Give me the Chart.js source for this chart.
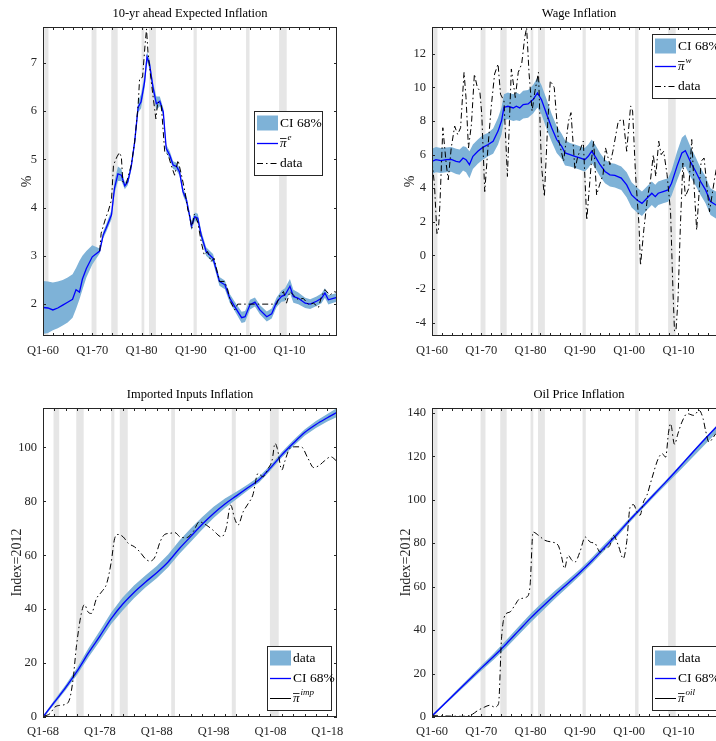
<!DOCTYPE html>
<html>
<head>
<meta charset="utf-8">
<script src="https://cdn.jsdelivr.net/npm/chart.js@4.4.1/dist/chart.umd.min.js"></script>
<style>
  html, body { margin: 0; padding: 0; background: #fff; overflow: hidden; }
  #fig { position: relative; width: 716px; height: 741px; overflow: hidden; }
  canvas { position: absolute; }
</style>
</head>
<body>
<div id="fig">
  <canvas id="c1" width="358" height="370" style="left:0px;top:0px"></canvas>
  <canvas id="c2" width="390" height="370" style="left:358px;top:0px"></canvas>
  <canvas id="c3" width="358" height="371" style="left:0px;top:370px"></canvas>
  <canvas id="c4" width="390" height="371" style="left:358px;top:370px"></canvas>
</div>
<script>
// NBER recessions (start, end) in decimal years
const recessions = [[1960.25, 1961.1], [1969.85, 1970.85], [1973.85, 1975.15], [1980.0, 1980.55],
  [1981.5, 1982.9], [1990.55, 1991.2], [2001.2, 2001.9], [2007.9, 2009.45]];

const ticksYears60 = [1960, 1970, 1980, 1990, 2000, 2010];
const ticksLabels60 = ['Q1-60', 'Q1-70', 'Q1-80', 'Q1-90', 'Q1-00', 'Q1-10'];
const ticksYears68 = [1968, 1978, 1988, 1998, 2008, 2018];
const ticksLabels68 = ['Q1-68', 'Q1-78', 'Q1-88', 'Q1-98', 'Q1-08', 'Q1-18'];

// 10-yr ahead expected inflation
const expYears = [1960, 1961, 1962, 1963, 1964, 1965, 1966, 1966.7, 1967.4, 1968, 1968.8, 1970, 1971.5, 1972.2, 1972.8,
  1973.9, 1974.5, 1975.2, 1975.9, 1976.6, 1977.2, 1977.9, 1978.6, 1979.3, 1979.9, 1980.6, 1981.1, 1981.6, 1982.3, 1983,
  1983.7, 1984.4, 1985, 1985.7, 1986.4, 1987.1, 1987.7, 1988.4, 1989.1, 1989.8, 1990.1, 1990.8, 1991.4, 1992.1, 1993.1,
  1994.5, 1995.8, 1996.9, 1997.9, 1998.9, 2000.3, 2001, 2002, 2003, 2004, 2005.4, 2006.4, 2007.4, 2008.4, 2009.1,
  2010.1, 2010.8, 2011.8, 2013.2, 2014.2, 2015.5, 2016.5, 2017.2, 2017.9, 2018.9, 2019.65];
const expMean = [1.93, 1.92, 1.88, 1.92, 1.98, 2.04, 2.1, 2.3, 2.25, 2.52, 2.74, 2.98, 3.1, 3.43, 3.57,
  3.85, 4.4, 4.7, 4.67, 4.45, 4.53, 4.85, 5.36, 6.08, 6.19, 6.6, 7.12, 6.98, 6.5, 6.15,
  6.2, 5.98, 5.22, 5.09, 4.88, 4.85, 4.74, 4.33, 4.16, 3.8, 3.62, 3.81, 3.78, 3.43, 3.09,
  2.95, 2.47, 2.4, 2.12, 1.95, 1.72, 1.74, 1.99, 2.04, 1.88, 1.74, 1.8, 2.04, 2.16, 2.19,
  2.37, 2.16, 2.12, 2.02, 2.0, 2.06, 2.12, 2.23, 2.09, 2.12, 2.14];
const expUpper = [2.48, 2.47, 2.45, 2.47, 2.5, 2.55, 2.62, 2.75, 2.9, 3.0, 3.1, 3.22, 3.15, 3.5, 3.65,
  3.95, 4.55, 4.85, 4.8, 4.52, 4.6, 4.92, 5.45, 6.2, 6.35, 6.75, 7.22, 7.08, 6.6, 6.3,
  6.3, 6.06, 5.3, 5.17, 4.96, 4.93, 4.82, 4.41, 4.24, 3.88, 3.72, 3.9, 3.87, 3.52, 3.18,
  3.04, 2.56, 2.49, 2.21, 2.05, 1.84, 1.86, 2.09, 2.14, 1.98, 1.85, 1.91, 2.14, 2.28, 2.33,
  2.52, 2.3, 2.24, 2.13, 2.1, 2.16, 2.22, 2.33, 2.19, 2.21, 2.23];
const expLower = [1.38, 1.4, 1.46, 1.5, 1.56, 1.62, 1.72, 1.9, 2.1, 2.3, 2.55, 2.82, 3.05, 3.36, 3.49,
  3.76, 4.28, 4.55, 4.55, 4.38, 4.46, 4.78, 5.27, 5.97, 6.05, 6.47, 7.02, 6.88, 6.4, 6.02,
  6.1, 5.9, 5.14, 5.01, 4.8, 4.77, 4.66, 4.25, 4.08, 3.72, 3.53, 3.72, 3.69, 3.34, 3.0,
  2.86, 2.38, 2.31, 2.03, 1.86, 1.61, 1.63, 1.89, 1.95, 1.79, 1.64, 1.7, 1.94, 2.05, 2.06,
  2.23, 2.03, 2.0, 1.92, 1.9, 1.96, 2.02, 2.13, 1.99, 2.03, 2.05];
const expDataYears = [1971.5, 1971.8, 1972.8, 1973.2, 1973.9, 1974.3, 1975.0, 1975.5, 1975.9, 1976.2, 1976.9, 1977.9,
  1978.6, 1979.3, 1979.6, 1980.2, 1980.7, 1981.0, 1981.3, 1981.9, 1982.3, 1982.9, 1983.3, 1984.0, 1984.7, 1985.4,
  1986.0, 1986.7, 1987.4, 1988.1, 1988.8, 1989.4, 1989.7, 1990.2, 1990.7, 1991.4, 1992.1, 1992.7, 1993.4, 1994.1,
  1994.7, 1995.8, 1996.8, 1997.4, 1998.05, 1998.9, 1999.5, 2007.4, 2008.1, 2008.8, 2009.4, 2010.1, 2010.8, 2011.8,
  2012.8, 2013.9, 2014.9, 2015.9, 2016.5, 2017.2, 2018.2, 2019.2, 2019.65];
const expData = [3.1, 3.47, 3.81, 3.91, 4.16, 4.88, 5.05, 5.14, 5.05, 4.53, 4.5, 4.88,
  5.36, 6.12, 6.67, 6.7, 7.36, 7.7, 7.22, 6.67, 6.33, 5.84, 6.19, 6.12, 5.15, 5.09,
  4.88, 4.67, 4.98, 4.67, 4.33, 3.95, 3.85, 3.57, 3.86, 3.7, 3.29, 3.02, 3.09, 2.88,
  2.95, 2.47, 2.47, 2.33, 2.05, 1.88, 2.0, 2.0, 2.19, 2.26, 2.02, 2.26, 2.19, 2.09,
  2.12, 1.99, 2.02, 1.93, 2.16, 2.3, 2.19, 2.26, 2.23];

// wage inflation
const wageYears = [1960, 1960.8, 1961.8, 1962.9, 1963.9, 1964.9, 1965.6, 1966.3, 1966.9, 1967.6, 1968.3, 1969.3, 1970.3,
  1971.4, 1972.4, 1973.4, 1974.1, 1974.6, 1975.4, 1976.5, 1977.1, 1977.8, 1978.5, 1979.5, 1980.5, 1981.4, 1982.2,
  1983.3, 1984.3, 1985.3, 1986.3, 1987, 1988, 1989, 1990, 1991, 1991.7, 1992.4, 1993.1, 1994.1, 1995.1, 1996.1,
  1997.1, 1998.4, 1999.5, 2000.5, 2001.6, 2002.6, 2003.6, 2004.6, 2005.3, 2005.9, 2006.9, 2007.9, 2008.6, 2009.7,
  2010.7, 2011.4, 2012.4, 2013.5, 2014.5, 2015.5, 2016.5, 2017.6, 2018.6, 2019.65];
const wageMean = [5.6, 5.7, 5.64, 5.7, 5.72, 5.6, 5.56, 5.8, 5.7, 5.4, 5.9, 6.2, 6.43,
  6.6, 6.8, 7.4, 8.0, 8.82, 8.88, 8.78, 8.88, 8.78, 8.98, 9.02, 9.28, 9.67, 9.28,
  8.38, 7.59, 6.9, 6.5, 6.1, 6.0, 5.9, 5.8, 5.7, 5.9, 6.2, 5.9, 5.4, 5.0, 4.8,
  4.76, 4.6, 4.2, 3.6, 3.3, 3.1, 3.4, 3.7, 3.5, 3.7, 3.8, 3.9, 4.3, 5.3,
  6.1, 6.24, 5.6, 5.0, 4.4, 3.9, 3.2, 3.0, 2.9, 2.9];
const wageUpper = [6.35, 6.45, 6.4, 6.42, 6.45, 6.35, 6.3, 6.5, 6.45, 6.2, 6.6, 6.9, 7.15,
  7.3, 7.55, 8.2, 8.8, 9.6, 9.7, 9.6, 9.7, 9.6, 9.8, 9.85, 10.15, 10.6, 10.15,
  9.25, 8.4, 7.7, 7.25, 6.85, 6.7, 6.6, 6.5, 6.4, 6.6, 6.9, 6.6, 6.1, 5.7, 5.5,
  5.45, 5.3, 4.95, 4.35, 4.05, 3.8, 4.1, 4.4, 4.2, 4.4, 4.5, 4.6, 5.05, 6.15,
  7.0, 7.2, 6.5, 5.85, 5.2, 4.7, 4.0, 3.8, 3.7, 3.7];
const wageLower = [4.85, 4.95, 4.9, 4.95, 4.98, 4.85, 4.8, 5.05, 4.95, 4.6, 5.15, 5.45, 5.7,
  5.9, 6.05, 6.6, 7.2, 8.05, 8.1, 8.0, 8.05, 8.0, 8.15, 8.2, 8.45, 8.8, 8.4,
  7.5, 6.75, 6.1, 5.75, 5.35, 5.3, 5.2, 5.1, 5.0, 5.2, 5.5, 5.2, 4.7, 4.3, 4.1,
  4.05, 3.9, 3.45, 2.85, 2.55, 2.35, 2.7, 3.0, 2.8, 3.0, 3.1, 3.2, 3.55, 4.45,
  5.2, 5.3, 4.7, 4.15, 3.6, 3.1, 2.4, 2.2, 2.1, 2.1];
const wageDataYears = [1960.0, 1960.5, 1961.0, 1961.3, 1961.6, 1962.2, 1962.9, 1963.3, 1963.9, 1964.6, 1965.2, 1965.8,
  1966.5, 1966.9, 1967.4, 1968.0, 1968.6, 1969.2, 1969.7, 1970.1, 1970.7, 1971.4, 1972.0, 1972.7, 1973.4, 1973.9,
  1974.6, 1975.3, 1976.1, 1976.9, 1977.5, 1978.2, 1978.8, 1979.2, 1979.7, 1980.3, 1980.9, 1981.6, 1982.2, 1982.8,
  1983.5, 1984.0, 1984.8, 1985.6, 1986.7, 1987.7, 1988.2, 1989.0, 1989.5, 1990.2, 1990.7, 1991.4, 1992.4, 1992.8,
  1993.4, 1994.0, 1994.7, 1995.2, 1996.1, 1996.7, 1997.8, 1998.8, 1999.5, 2000.3, 2000.7, 2001.3, 2002.0, 2002.3,
  2003.0, 2003.7, 2004.3, 2004.9, 2005.4, 2006.0, 2006.5, 2007.0, 2007.7, 2008.4, 2008.9, 2009.2, 2009.5, 2009.9,
  2010.4, 2010.9, 2011.4, 2012.1, 2012.7, 2013.2, 2013.7, 2014.6, 2015.2, 2016.3, 2017.3, 2017.9, 2018.6, 2019.3];
const wageData = [5.6, 4.2, 1.3, 1.5, 3.0, 7.6, 5.4, 4.5, 6.4, 7.7, 7.2, 7.6,
  10.9, 9.4, 6.4, 7.8, 10.8, 10.0, 9.8, 8.4, 3.8, 6.6, 8.8, 10.8, 11.4, 9.6,
  9.2, 4.7, 11.1, 9.4, 10.9, 11.4, 12.95, 13.55, 10.8, 8.6, 9.8, 10.9, 5.4, 3.5,
  8.0, 10.4, 10.0, 7.0, 5.6, 8.0, 8.5, 5.1, 5.8, 6.4, 6.8, 2.1, 5.8, 6.8,
  3.6, 4.2, 4.8, 6.4, 5.4, 6.2, 8.0, 8.1, 6.2, 8.9, 8.6, 4.8, 1.8, -0.6,
  1.6, 3.4, 4.4, 6.0, 4.7, 6.8, 6.0, 6.2, 4.8, 2.6, -2.2, -4.5, -4.5, -2.7,
  1.8, 5.5, 3.5, 4.0, 6.9, 4.0, 1.5, 5.6, 5.8, 2.6, 4.5, 5.5, 5.2, 4.8];

// imported inputs (index, 2012 = 100)
const impYears = [1968, 1970, 1972, 1974, 1976, 1978, 1980, 1982, 1984, 1986, 1988, 1990, 1992, 1994,
  1996, 1998, 2000, 2002, 2004, 2006, 2008, 2010, 2012, 2014, 2016, 2018, 2019.7];
const impMean = [0, 5.5, 11, 17, 23.8, 30, 36.5, 41.8, 46.2, 50, 53.5, 57.5, 62.5, 67,
  71.5, 75.5, 79, 82, 85, 88, 92.4, 97.2, 101.5, 105.5, 108.5, 111, 113];
const impUpper = [0.5, 6.3, 12, 18.3, 25.5, 32, 38.8, 44.3, 48.8, 52.5, 56, 60.3, 65.5, 70,
  74.2, 78, 81, 83.5, 86.2, 89.2, 93.4, 98.3, 102.6, 106.6, 109.8, 112.4, 114.6];
const impLower = [-0.5, 4.7, 10, 15.7, 22.2, 28.2, 34.5, 39.5, 44, 48, 51.5, 55.5, 60.5, 65,
  69.5, 73.8, 77.5, 80.8, 84, 87, 91.4, 96.2, 100.4, 104.3, 107.2, 109.6, 111.3];
const impDataYears = [1968.3, 1969.2, 1970.1, 1970.9, 1971.8, 1972.7, 1973.3, 1973.9, 1974.8, 1975.3, 1975.9, 1976.5,
  1977.4, 1978.3, 1979.2, 1980, 1980.6, 1981.2, 1982.1, 1983, 1984.1, 1985, 1986.1, 1986.8, 1987.7, 1988.6,
  1989.4, 1990.3, 1991.2, 1992.1, 1993.2, 1994.4, 1995.5, 1996.7, 1997.9, 1999.4, 2000.2, 2001, 2001.7, 2002.3,
  2003.2, 2004.1, 2004.9, 2005.8, 2006.7, 2007.6, 2008.3, 2008.8, 2009.2, 2010, 2010.5, 2011.4, 2012.3, 2013.4,
  2014.6, 2015.6, 2016.5, 2017.5, 2018.6, 2019.7];
const impData = [0.4, 1.2, 3.7, 4.3, 4.6, 6.8, 14.2, 26.6, 39, 41.7, 39, 38.4,
  43.9, 46.4, 49.5, 57.5, 66.2, 67.7, 66.8, 64.4, 63.1, 61.3, 58.5, 57.8, 59.4, 65,
  67.7, 68.1, 68.4, 66.8, 66.5, 68.7, 72.4, 71.2, 69.3, 66.8, 69.9, 78.6, 73.6, 71.2,
  76.1, 79.2, 82.3, 90.3, 89.1, 92.2, 95.3, 101.5, 99.6, 91.6, 94.7, 99.6, 100.2, 100.2,
  95.9, 92.5, 93.2, 95, 96.5, 94.8];

// oil price (index, 2012 = 100)
const oilYears = [1960, 1962.5, 1965, 1967.5, 1970, 1972.5, 1975, 1977.5, 1980, 1982.5, 1985, 1987.5, 1990,
  1992.5, 1995, 1997.5, 2000, 2002.5, 2005, 2007.5, 2010, 2012.5, 2015, 2017.5, 2019.65];
const oilMean = [0.5, 6, 11.5, 17, 22.5, 27.8, 33.5, 39.5, 45.5, 51, 56.3, 61.3, 66.5,
  72, 78, 84, 90.3, 96.3, 102.3, 108.3, 114.5, 120.8, 127, 133, 138];
const oilUpper = [1.0, 6.6, 12.3, 18, 23.7, 29.2, 35.2, 41.4, 47.5, 53, 58.2, 63.0, 68.0,
  73.5, 79.5, 85.3, 91.3, 97.2, 103.2, 109.1, 115.2, 121.4, 127.6, 133.6, 138.6];
const oilLower = [0, 5.4, 10.7, 16, 21.3, 26.4, 31.8, 37.6, 43.5, 49, 54.5, 59.7, 65.0,
  70.6, 76.6, 82.7, 89.3, 95.3, 101.2, 107, 112.8, 118.6, 124.5, 130.3, 135.2];
const oilDataYears = [1960, 1962, 1964, 1966, 1967, 1968, 1969.3, 1970.7, 1971.7, 1972.7, 1973.5, 1974.1, 1974.8,
  1975.8, 1976.8, 1977.8, 1979.2, 1979.9, 1980.5, 1981.6, 1982.9, 1984.3, 1985.6, 1986.3, 1986.9, 1987.6, 1988.4,
  1989, 1990, 1991.1, 1992.1, 1993.1, 1994.1, 1995.1, 1996.1, 1996.8, 1997.8, 1998.8, 1999.5, 2000.2, 2000.9,
  2001.6, 2002.2, 2002.9, 2003.6, 2004.6, 2005.9, 2006.7, 2007.4, 2008, 2008.4, 2009.2, 2009.9, 2010.7, 2011.8,
  2013.1, 2014.2, 2015, 2015.5, 2016.2, 2016.9, 2017.6, 2018.3, 2019, 2019.65];
const oilData = [0.6, 0.5, 0.4, 0.3, 0.4, 1.0, 3, 4.6, 5.4, 4.6, 6.1, 36, 46.8,
  48.3, 51.4, 54.4, 55.2, 60.6, 85.1, 83.6, 81.3, 80.5, 79, 73.6, 68.3, 74.4, 72.1,
  71.3, 75.9, 82.8, 80.5, 79.8, 75.9, 77.5, 79, 83.6, 79, 72.9, 80.5, 96.6, 97.7,
  94.3, 92.8, 98.9, 102, 109.7, 118.9, 121.2, 119.6, 131.1, 135, 125.5, 130.4, 135.7, 139.6,
  138.8, 141.1, 137.3, 131.9, 126.5, 128.1, 130.4, 131, 133, 134];

const BAND = '#7eb2d7';
const BLUE = '#0000ff';
const AXIS = '#262626';
const FONT = '"Liberation Serif", "Times New Roman", serif';
const DASHDOT = [6, 3, 1.5, 3];

function pts(xs, ys) {
  return xs.map((x, i) => ({x: x, y: ys[i]}));
}

const recessionPlugin = {
  id: 'recessions',
  beforeDatasetsDraw(chart) {
    const {ctx, chartArea: a, scales: {x}} = chart;
    ctx.save();
    ctx.beginPath();
    ctx.rect(a.left, a.top, a.width, a.height);
    ctx.clip();
    ctx.fillStyle = '#e6e6e6';
    recessions.forEach(([s, e]) => {
      const x0 = x.getPixelForValue(s), x1 = x.getPixelForValue(e);
      ctx.fillRect(x0, a.top, x1 - x0, a.height);
    });
    ctx.restore();
  }
};

// MATLAB-like box with inward ticks, title and legend drawn on top
function decorPlugin(p) {
  return {
    id: 'decor',
    afterDatasetsDraw(chart) {
      const {ctx, chartArea: a, scales: {x, y}} = chart;
      ctx.save();
      ctx.strokeStyle = AXIS;
      ctx.lineWidth = 1;
      ctx.strokeRect(a.left + 0.5, a.top + 0.5, a.width - 1, a.height - 1);
      ctx.beginPath();
      for (let v = p.xMin; v <= x.max; v += 2) {
        const px = Math.round(x.getPixelForValue(v)) + 0.5;
        ctx.moveTo(px, a.bottom); ctx.lineTo(px, a.bottom - 3);
        ctx.moveTo(px, a.top); ctx.lineTo(px, a.top + 3);
      }
      y.ticks.forEach(t => {
        const py = Math.round(y.getPixelForValue(t.value)) + 0.5;
        ctx.moveTo(a.left, py); ctx.lineTo(a.left + 3, py);
        ctx.moveTo(a.right, py); ctx.lineTo(a.right - 3, py);
      });
      ctx.stroke();

      // title
      ctx.fillStyle = '#000';
      ctx.font = '12.5px ' + FONT;
      ctx.textAlign = 'center';
      ctx.textBaseline = 'middle';
      ctx.fillText(p.title, (a.left + a.right) / 2, a.top - 13);

      // legend
      const L = p.legend;
      const bx = Math.round(a.left + L.x), by = Math.round(a.top + L.y);
      ctx.fillStyle = '#fff';
      ctx.fillRect(bx, by, L.w, L.h);
      ctx.strokeStyle = AXIS;
      ctx.strokeRect(bx + 0.5, by + 0.5, L.w, L.h);
      ctx.textAlign = 'left';
      ctx.textBaseline = 'middle';
      L.items.forEach((it, i) => {
        const cy = by + 12 + i * 20;
        if (it.kind === 'patch') {
          ctx.fillStyle = BAND;
          ctx.fillRect(bx + 3, cy - 7.5, 21, 15);
        } else {
          ctx.strokeStyle = it.color;
          ctx.lineWidth = it.color === BLUE ? 1.3 : 1;
          ctx.setLineDash(it.dash || []);
          ctx.beginPath();
          ctx.moveTo(bx + 3, cy + 0.5); ctx.lineTo(bx + 24, cy + 0.5);
          ctx.stroke();
          ctx.setLineDash([]);
        }
        ctx.fillStyle = '#000';
        const tx = bx + 26;
        if (it.sup) {
          ctx.font = 'italic 13px ' + FONT;
          ctx.fillText('\u03c0', tx, cy + 1);
          const w = ctx.measureText('\u03c0').width;
          ctx.strokeStyle = '#000';
          ctx.lineWidth = 0.8;
          ctx.beginPath();
          ctx.moveTo(tx, cy - 4.5); ctx.lineTo(tx + w, cy - 4.5);
          ctx.stroke();
          ctx.font = 'italic 9px ' + FONT;
          ctx.fillText(it.sup, tx + w + 1, cy - 5);
        } else {
          ctx.font = '13.5px ' + FONT;
          ctx.fillText(it.text, tx, cy);
        }
      });
      ctx.restore();
    }
  };
}

function makePanel(id, p) {
  const datasets = [
    {data: pts(p.years, p.upper), borderWidth: 0, pointRadius: 0, fill: false, order: 2},
    {data: pts(p.years, p.lower), borderWidth: 0, pointRadius: 0, fill: '-1', backgroundColor: BAND, order: 3},
    {data: pts(p.years, p.mean), borderColor: BLUE, borderWidth: 1.3, pointRadius: 0, fill: false, order: 1,
      cubicInterpolationMode: p.smooth ? 'monotone' : 'default'},
    {data: pts(p.dataYears, p.data), borderColor: '#000', borderWidth: 1, borderDash: DASHDOT, pointRadius: 0,
      fill: false, order: 0, cubicInterpolationMode: p.smooth ? 'monotone' : 'default'}
  ];
  new Chart(document.getElementById(id), {
    type: 'line',
    data: {datasets: datasets},
    options: {
      responsive: false,
      animation: false,
      devicePixelRatio: 1,
      events: [],
      layout: {padding: {top: p.padTop, right: p.padRight, bottom: 0, left: 0}},
      plugins: {legend: {display: false}, tooltip: {enabled: false}, title: {display: false}},
      scales: {
        x: {
          type: 'linear', min: p.xMin, max: p.xMax,
          grid: {display: false, drawTicks: false},
          border: {display: false},
          afterBuildTicks: s => { s.ticks = p.xTicks.map(v => ({value: v})); },
          afterFit: s => { s.height = p.xHeight; },
          ticks: {
            padding: 7, maxRotation: 0, autoSkip: false, color: AXIS, font: {family: FONT, size: 12.5},
            callback: v => p.xLabels[p.xTicks.indexOf(v)]
          }
        },
        y: {
          type: 'linear', min: p.yMin, max: p.yMax,
          grid: {display: false, drawTicks: false},
          border: {display: false},
          afterBuildTicks: s => { s.ticks = p.yTicks.map(v => ({value: v})); },
          afterFit: s => { s.width = p.yWidth; },
          ticks: {padding: 6, color: AXIS, font: {family: FONT, size: 12.5}},
          title: {display: true, text: p.yTitle, color: AXIS, font: {family: FONT, size: 14},
            padding: {top: p.yTitlePad, bottom: 0}}
        }
      }
    },
    plugins: [recessionPlugin, decorPlugin(p)]
  });
}

makePanel('c1', {
  title: '10-yr ahead Expected Inflation', yTitle: '%',
  years: expYears, mean: expMean, upper: expUpper, lower: expLower, dataYears: expDataYears, data: expData,
  xMin: 1960, xMax: 2019.65, yMin: 1.34, yMax: 7.74, yTicks: [2, 3, 4, 5, 6, 7],
  xTicks: ticksYears60, xLabels: ticksLabels60,
  padTop: 27, padRight: 21, yWidth: 43, xHeight: 34, yTitlePad: 18.6,
  legend: {x: 211, y: 84, w: 68, h: 64, items: [
    {kind: 'patch', text: 'CI 68%'}, {kind: 'line', color: BLUE, sup: 'e'},
    {kind: 'line', color: '#000', dash: DASHDOT, text: 'data'}]}
});

makePanel('c2', {
  title: 'Wage Inflation', yTitle: '%',
  years: wageYears, mean: wageMean, upper: wageUpper, lower: wageLower, dataYears: wageDataYears, data: wageData,
  xMin: 1960, xMax: 2019.65, yMin: -4.8, yMax: 13.6, yTicks: [-4, -2, 0, 2, 4, 6, 8, 10, 12],
  xTicks: ticksYears60, xLabels: ticksLabels60,
  padTop: 27, padRight: 22, yWidth: 74, xHeight: 34, yTitlePad: 44,
  legend: {x: 220, y: 7, w: 68, h: 64, items: [
    {kind: 'patch', text: 'CI 68%'}, {kind: 'line', color: BLUE, sup: 'w'},
    {kind: 'line', color: '#000', dash: DASHDOT, text: 'data'}]}
});

makePanel('c3', {
  title: 'Imported Inputs Inflation', yTitle: 'Index=2012', smooth: true,
  years: impYears, mean: impMean, upper: impUpper, lower: impLower, dataYears: impDataYears, data: impData,
  xMin: 1968, xMax: 2019.7, yMin: 0, yMax: 114.6, yTicks: [0, 20, 40, 60, 80, 100],
  xTicks: ticksYears68, xLabels: ticksLabels68,
  padTop: 38, padRight: 21, yWidth: 43, xHeight: 24, yTitlePad: 8.6,
  legend: {x: 224, y: 238, w: 64, h: 64, items: [
    {kind: 'patch', text: 'data'}, {kind: 'line', color: BLUE, text: 'CI 68%'},
    {kind: 'line', color: '#000', sup: 'imp'}]}
});

makePanel('c4', {
  title: 'Oil Price Inflation', yTitle: 'Index=2012', smooth: true,
  years: oilYears, mean: oilMean, upper: oilUpper, lower: oilLower, dataYears: oilDataYears, data: oilData,
  xMin: 1960, xMax: 2019.65, yMin: 0, yMax: 142.2, yTicks: [0, 20, 40, 60, 80, 100, 120, 140],
  xTicks: ticksYears60, xLabels: ticksLabels60,
  padTop: 38, padRight: 22, yWidth: 74, xHeight: 24, yTitlePad: 39.6,
  legend: {x: 220, y: 238, w: 68, h: 64, items: [
    {kind: 'patch', text: 'data'}, {kind: 'line', color: BLUE, text: 'CI 68%'},
    {kind: 'line', color: '#000', sup: 'oil'}]}
});
</script>
</body>
</html>
